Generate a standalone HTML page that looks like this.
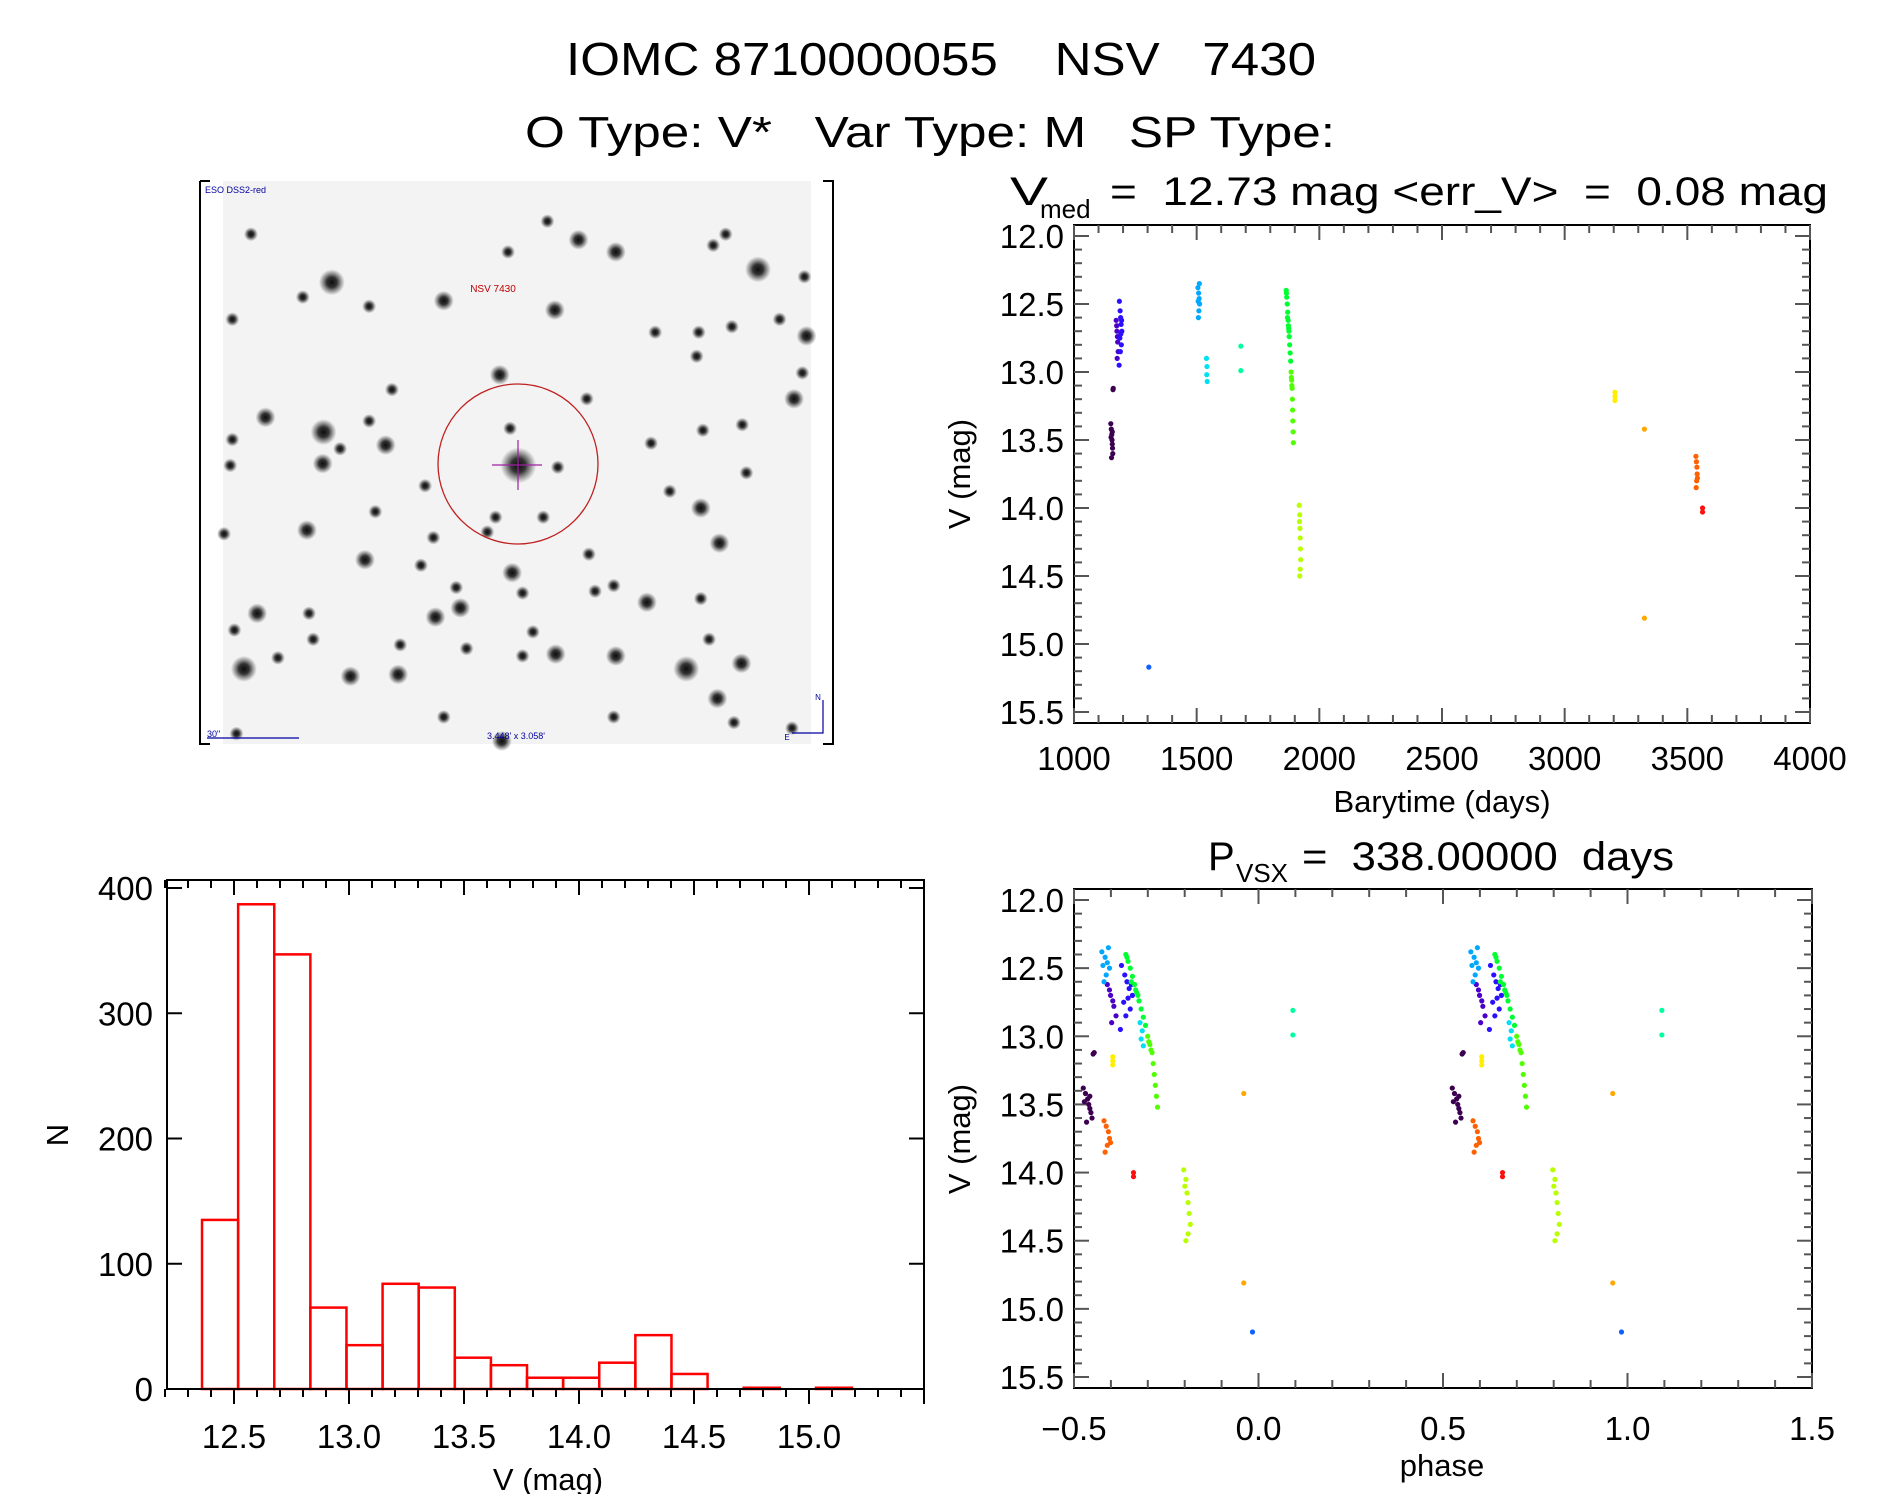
<!DOCTYPE html>
<html><head><meta charset="utf-8"><style>
html,body{margin:0;padding:0;background:#fff;}
svg{display:block;font-family:"Liberation Sans",sans-serif;}
.pre{white-space:pre;}
</style></head><body>
<svg id="fig" width="1889" height="1494" viewBox="0 0 1889 1494" xmlns="http://www.w3.org/2000/svg">
<defs>
<radialGradient id="star"><stop offset="0" stop-color="#000" stop-opacity="0.95"/><stop offset="0.4" stop-color="#111" stop-opacity="0.85"/><stop offset="1" stop-color="#333" stop-opacity="0"/></radialGradient>
</defs>
<text class="pre" x="941" y="75" font-size="46" text-anchor="middle" textLength="750" lengthAdjust="spacingAndGlyphs">IOMC 8710000055    NSV   7430</text>
<text class="pre" x="930" y="147" font-size="44" text-anchor="middle" textLength="810" lengthAdjust="spacingAndGlyphs">O Type: V*   Var Type: M   SP Type:</text>
<g>
<text x="1010" y="205" font-size="40" textLength="38" lengthAdjust="spacingAndGlyphs">V</text>
<text x="1040" y="218" font-size="26">med</text>
<text class="pre" x="1110" y="205" font-size="40" textLength="718" lengthAdjust="spacingAndGlyphs">=  12.73 mag &lt;err_V&gt;  =  0.08 mag</text>
</g>
<g>
<text x="1208" y="870" font-size="40">P</text>
<text x="1236" y="882" font-size="26">VSX</text>
<text class="pre" x="1302" y="870" font-size="40" textLength="372" lengthAdjust="spacingAndGlyphs">=  338.00000  days</text>
</g>
<g id="img"></g>
<g id="lc"></g>
<g id="ph"></g>
<g id="hist"></g>
</svg>
<script>
// ---- light curve data (barytime days, V mag) per colour group ----
const groupColors = ["#3c0050","#4a00c8","#2a10ff","#1060ff","#00a8ff","#00e0f0","#00ffa0","#00ff30","#50ff00","#b8ff00","#ffee00","#ffa800","#ff6000","#ff1010"];
const groupTimes = [
 [1150,1152,1154,1155,1156,1157,1158,1153,1151,1156,1160,1159],
 [1172,1175,1178,1180,1176,1174,1177],
 [1185,1188,1190,1192,1195,1187,1193,1189,1191,1184,1194],
 [1305],
 [1505,1508,1510,1512,1509,1511,1507,1506],
 [1540,1542,1541,1543],
 [1680,1680],
 [1865,1867,1869,1871,1873,1875,1877,1879,1881,1883,1870,1876,1866,1874],
 [1885,1887,1889,1890,1891,1892,1893,1894,1888,1886],
 [1918,1920,1921,1922,1923,1924,1922,1920,1919],
 [3205,3205,3205],
 [3325,3325],
 [3535,3537,3539,3540,3538,3536,3541],
 [3562,3562]
];
const groupMags = [
 [13.38,13.42,13.46,13.50,13.53,13.56,13.60,13.63,13.48,13.44,13.12,13.13],
 [12.62,12.70,12.78,12.85,12.90,12.66,12.74],
 [12.48,12.55,12.60,12.65,12.70,12.75,12.80,12.85,12.72,12.95,12.62],
 [15.17],
 [12.38,12.42,12.46,12.50,12.55,12.35,12.60,12.48],
 [12.90,12.96,13.02,13.07],
 [12.81,12.99],
 [12.40,12.45,12.50,12.56,12.62,12.68,12.74,12.80,12.86,12.92,12.60,12.70,12.42,12.66],
 [13.00,13.06,13.12,13.20,13.28,13.36,13.44,13.52,13.10,13.04],
 [13.98,14.05,14.15,14.22,14.30,14.38,14.45,14.50,14.10],
 [13.15,13.18,13.21],
 [13.42,14.81],
 [13.62,13.66,13.70,13.75,13.80,13.85,13.78],
 [14.00,14.03]
];
const period = 338.0;
const epoch = 972.5;
const lcXTicks = [1000,1500,2000,2500,3000,3500,4000];
const magTicks = ["12.0","12.5","13.0","13.5","14.0","14.5","15.0","15.5"];
const phaseTicks = ["\u22120.5","0.0","0.5","1.0","1.5"];
// ---- histogram data ----
const histStart = 12.361;
const histWidth = 0.157;
const histCounts = [135,387,347,65,35,84,81,25,19,9,9,21,43,12,0,1,0,1];
const histXTicks = ["12.5","13.0","13.5","14.0","14.5","15.0"];
const histYTicks = [0,100,200,300,400];

const NS="http://www.w3.org/2000/svg";
function mk(tag,attrs,parent){const e=document.createElementNS(NS,tag);for(const k in attrs)e.setAttribute(k,attrs[k]);parent.appendChild(e);return e;}
function txt(parent,x,y,s,size,anchor){const t=mk('text',{x:x,y:y,'font-size':size,'text-anchor':anchor||'middle'},parent);t.textContent=s;return t;}

const lcX=t=>1074+(t-1000)/3000*736;
const lcY=v=>236+(v-12)/3.5*476;
const phX=p=>1074+(p+0.5)/2*738;
const phY=v=>900+(v-12)/3.5*477;
const hX=m=>234+(m-12.5)*230;
const hY=n=>1389-n/400*501;

function frame(g,x0,y0,x1,y1){
  const r=mk('rect',{x:x0,y:y0,width:x1-x0,height:y1-y0,fill:'none',stroke:'#000','stroke-width':2},g);
  
  
}
function magAxis(g,yf,x0,x1){
  for(let i=0;i<=35;i++){
    const v=12+i*0.1,y=yf(v),L=(i%5==0)?15:8;
    mk('line',{x1:x0,y1:y,x2:x0+L,y2:y,stroke:'#555','stroke-width':2},g);
    mk('line',{x1:x1,y1:y,x2:x1-L,y2:y,stroke:'#555','stroke-width':2},g);
  }
  magTicks.forEach(s=>{const t=txt(g,x0-10,yf(parseFloat(s))+12,s,33,'end');
    
    });
}
(function(){
  const g=document.getElementById('lc');
  frame(g,1074,225,1810,723);
  for(let t=1000;t<=4000;t+=100){const x=lcX(t),L=(t%500==0)?15:8;
    mk('line',{x1:x,y1:723,x2:x,y2:723-L,stroke:'#555','stroke-width':2},g);
    mk('line',{x1:x,y1:225,x2:x,y2:225+L,stroke:'#555','stroke-width':2},g);}
  magAxis(g,lcY,1074,1810);
  lcXTicks.forEach(v=>{const t=txt(g,lcX(v),770,String(v),33);
    
    });
  const xt=txt(g,1442,812,'Barytime (days)',31);
  
  
  const yt=txt(g,0,0,'V (mag)',31);yt.setAttribute('transform','translate(970,474) rotate(-90)');
  
  
  groupTimes.forEach((ts,gi)=>ts.forEach((t,i)=>{
    const c=mk('circle',{cx:lcX(t),cy:lcY(groupMags[gi][i]),r:2.6,fill:groupColors[gi]},g);
    
    
  }));
})();
(function(){
  const g=document.getElementById('ph');
  frame(g,1074,889,1812,1388);
  for(let i=0;i<=20;i++){const p=-0.5+i*0.1,x=phX(p),L=(i%5==0)?15:8;
    mk('line',{x1:x,y1:1388,x2:x,y2:1388-L,stroke:'#555','stroke-width':2},g);
    mk('line',{x1:x,y1:889,x2:x,y2:889+L,stroke:'#555','stroke-width':2},g);}
  magAxis(g,phY,1074,1812);
  phaseTicks.forEach((s,i)=>{const t=txt(g,phX(-0.5+i*0.5),1440,s,33);
    
    });
  const xt=txt(g,1442,1476,'phase',31);
  
  
  const yt=txt(g,0,0,'V (mag)',31);yt.setAttribute('transform','translate(970,1139) rotate(-90)');
  
  
  groupTimes.forEach((ts,gi)=>ts.forEach((t,i)=>{
    let ph=((t-epoch)/period)%1; if(ph>=0.5)ph-=1;
    [ph,ph+1].forEach(p=>{
      const c=mk('circle',{cx:phX(p),cy:phY(groupMags[gi][i]),r:2.6,fill:groupColors[gi]},g);
      
      
    });
  }));
})();
(function(){
  const g=document.getElementById('hist');
  for(let i=0;i<=33;i++){const m=12.2+i*0.1,x=hX(m),L=(Math.round(m*10)%5==0)?15:8;
    mk('line',{x1:x,y1:1389,x2:x,y2:1389+L,stroke:'#000','stroke-width':2},g);
    mk('line',{x1:x,y1:880,x2:x,y2:880+L,stroke:'#000','stroke-width':2},g);}
  histYTicks.forEach(n=>{const y=hY(n);
    mk('line',{x1:167,y1:y,x2:182,y2:y,stroke:'#000','stroke-width':2},g);
    mk('line',{x1:924,y1:y,x2:909,y2:y,stroke:'#000','stroke-width':2},g);
    const t=txt(g,153,y+12,String(n),33,'end');
    
    });
  histXTicks.forEach(s=>{const t=txt(g,hX(parseFloat(s)),1448,s,33);
    
    });
  histCounts.forEach((n,i)=>{
    const x0=hX(histStart+i*histWidth),x1=hX(histStart+(i+1)*histWidth);
    const r=mk('rect',{x:x0,y:hY(n),width:x1-x0,height:1389-hY(n),fill:'none',stroke:'#f00','stroke-width':2.5},g);
    
    
  });
  frame(g,167,880,924,1389);
  const xt=txt(g,548,1490,'V (mag)',31);
  
  
  const yt=txt(g,0,0,'N',31);yt.setAttribute('transform','translate(68,1135) rotate(-90)');
  
  
})();
(function(){
  const g=document.getElementById('img');
  mk('rect',{x:223,y:181,width:588,height:563,fill:'#f3f3f3'},g);
  mk('path',{d:'M200 181 H210 M200 181 V744 H210 M823 181 H833 V744 H823',stroke:'#000','stroke-width':2,fill:'none'},g);
  const stars=[[330,290,3],[1358,255,3],[1015,208,2],[925,175,2],[755,208,1],[600,340,2],[868,365,2],[850,125,1],[135,160,1],[260,330,1],[90,390,1],[420,355,1],[1280,160,1],[1250,190,1],[1470,275,1],[1295,410,1],[1410,390,1],[1475,435,2],[1215,425,1],[1110,425,1],[1210,490,1],[1445,605,2],[1465,535,1],[735,540,2],[475,580,1],[945,605,1],[170,655,2],[310,695,3],[308,780,2],[460,730,2],[90,715,1],[85,785,1],[420,665,1],[350,740,1],[780,785,4],[760,685,1],[875,790,1],[555,840,1],[1145,855,1],[1220,900,2],[1100,725,1],[1265,995,2],[270,960,2],[435,910,1],[410,1040,2],[575,980,1],[765,1075,2],[725,925,1],[840,925,1],[705,965,1],[950,1025,1],[545,1055,1],[1090,1155,2],[640,1170,2],[580,1195,2],[630,1115,1],[790,1130,1],[1010,1110,1],[965,1125,1],[150,1185,2],[275,1185,1],[95,1230,1],[118,1335,3],[200,1305,1],[285,1255,1],[375,1355,2],[490,1350,2],[495,1270,1],[655,1280,1],[815,1235,1],[870,1295,2],[790,1300,1],[1015,1300,2],[1185,1335,3],[1318,1320,2],[1260,1415,2],[1240,1255,1],[1220,1145,1],[600,1465,1],[1300,1480,1],[1440,1495,1],[740,1530,2],[100,1510,1],[1010,1465,1],[70,970,1],[1330,805,1],[1320,675,1],[1225,690,1]];
  const rad=[0,7,10,13,18];
  stars.forEach(s=>{mk('circle',{cx:195+s[0]/2.412,cy:175+s[1]/2.703,r:rad[s[2]],fill:'url(#star)'},g);});
  mk('circle',{cx:518,cy:464,r:80,fill:'none',stroke:'#c02020','stroke-width':1.3},g);
  mk('path',{d:'M492 465 H542 M518 440 V490',stroke:'#a020a0','stroke-width':1.2},g);
  const t1=txt(g,493,292,'NSV 7430',10);t1.setAttribute('fill','#c00000');
  const t2=txt(g,205,193,'ESO DSS2-red',9,'start');t2.setAttribute('fill','#0000a0');
  const t3=txt(g,516,739,'3.448\' x 3.058\'',9);t3.setAttribute('fill','#0000a0');
  const t4=txt(g,207,737,'30"',9,'start');t4.setAttribute('fill','#0000a0');
  mk('line',{x1:207,y1:738,x2:299,y2:738,stroke:'#0000a0','stroke-width':1.2},g);
  mk('path',{d:'M823 700 V733 H792',stroke:'#0000a0','stroke-width':1.2,fill:'none'},g);
  const t5=txt(g,818,700,'N',8);t5.setAttribute('fill','#0000a0');
  const t6=txt(g,787,740,'E',8);t6.setAttribute('fill','#0000a0');
})();
</script>
</body></html>
